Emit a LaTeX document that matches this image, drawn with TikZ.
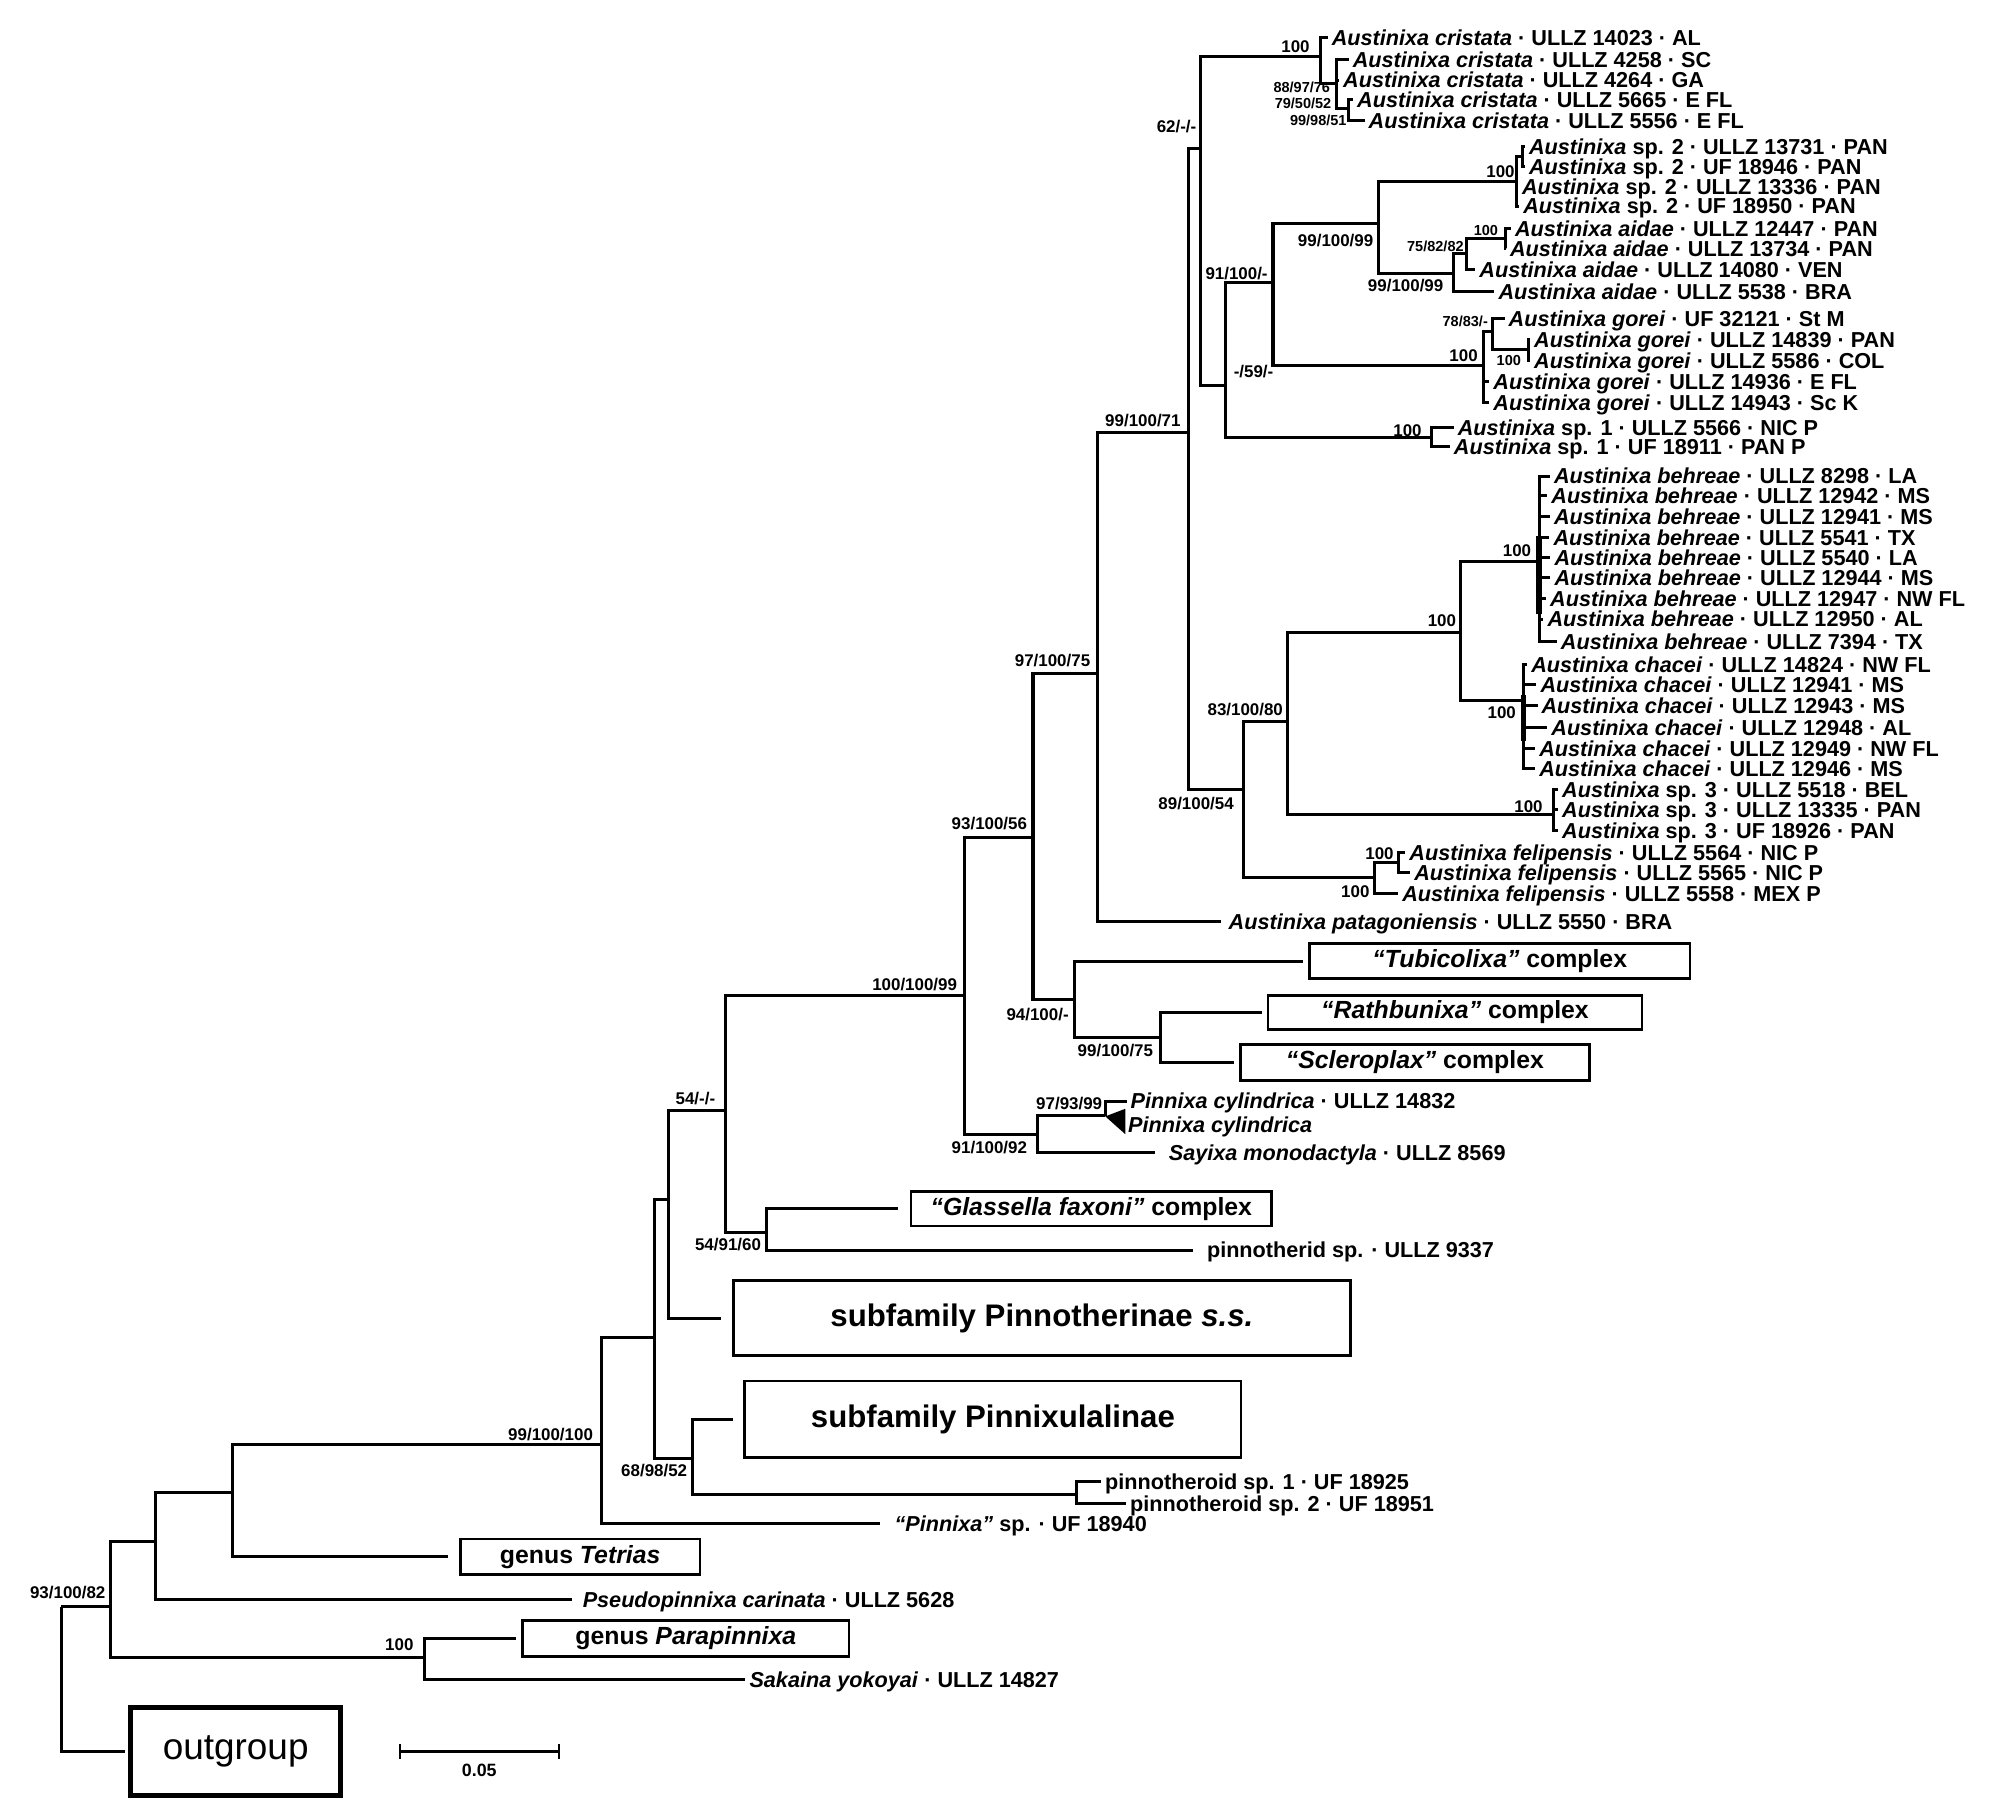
\documentclass[tikz,border=0pt]{standalone}
\usepackage{fontspec}
\setmainfont{Liberation Sans}
\newcommand{\aus}[1]{\textit{Austinixa #1}}
\newcommand{\sd}{ · }
\begin{document}
\begin{tikzpicture}[x=1pt, y=-1pt, line join=miter,
    br/.style={line width=2.4pt},
    tx/.style={anchor=west, inner xsep=3pt, inner ysep=0pt, text height=12.2pt, text depth=0pt, font=\bfseries\fontsize{17}{17}\selectfont},
    lb/.style={anchor=east, inner sep=0pt, text height=9.6pt, text depth=0pt, font=\bfseries\fontsize{13.3}{13.3}\selectfont},
    lbs/.style={lb, text height=8.2pt, font=\bfseries\fontsize{11.4}{11.4}\selectfont},
    bx/.style={draw, line width=2pt, anchor=west, inner sep=0pt, font=\bfseries\fontsize{19.5}{19.5}\selectfont},
    bxl/.style={bx, font=\bfseries\fontsize{24.5}{24.5}\selectfont}]
  \useasboundingbox (0,0) rectangle (1568,1428);
  % 系统发育树：内部节点
  \coordinate (root) at (48,1262);
  \coordinate (nR2) at (86.5,1262);
  \coordinate (nR3) at (122.5,1210.8);
  \coordinate (nR4) at (182.5,1172.6);
  \coordinate (nR5) at (472.5,1134.5);
  \coordinate (nR6) at (514.5,1051);
  \coordinate (nR7) at (525,942.6);
  \coordinate (nR8) at (570,872.5);
  \coordinate (nR9) at (602,968);
  \coordinate (nR10) at (544,1145.5);
  \coordinate (nPT) at (846,1173.9);
  \coordinate (nPP) at (333.5,1302);
  \coordinate (nP) at (757.9,782);
  \coordinate (nQ) at (811.5,658);
  \coordinate (nT) at (844.2,785.2);
  \coordinate (nU) at (911.9,815);
  \coordinate (nPS) at (814.7,891.4);
  \coordinate (nPC) at (868.3,876);
  \coordinate (tri) at (868.3,877);
  \coordinate (nX) at (862,529);
  \coordinate (nY) at (934,340);
  \coordinate (nZ) at (943,116.5);
  \coordinate (nC1) at (1037.5,44.5);
  \coordinate (nC2) at (1050,65.5);
  \coordinate (nC3) at (1059,85);
  \coordinate (nN1) at (963,302.5);
  \coordinate (nN2) at (1000,222);
  \coordinate (nN3) at (1083,175.5);
  \coordinate (nS2) at (1191.5,142.7);
  \coordinate (nS2a) at (1196,123);
  \coordinate (nA1) at (1141.7,214.8);
  \coordinate (nA2) at (1151.7,199);
  \coordinate (nA3) at (1182.3,187.3);
  \coordinate (nG1) at (1165.3,286.8);
  \coordinate (nG2) at (1172.6,260.6);
  \coordinate (nG3) at (1200.6,274.7);
  \coordinate (nS1) at (1124.7,343.5);
  \coordinate (nW) at (976.7,620);
  \coordinate (nV) at (1011.5,566.6);
  \coordinate (nBC) at (1147,496.5);
  \coordinate (nBE) at (1209,441);
  \coordinate (nCH) at (1196.5,550);
  \coordinate (nS3) at (1220.6,640);
  \coordinate (nF1) at (1080,689.6);
  \coordinate (nF2) at (1098.4,677.6);

  % 末端类群
  \node[tx] (cr1) at (1043,29.5) {\aus{cristata}\sd ULLZ 14023\sd AL};
  \node[tx] (cr2) at (1059.5,47) {\aus{cristata}\sd ULLZ 4258\sd SC};
  \node[tx] (cr3) at (1052,63) {\aus{cristata}\sd ULLZ 4264\sd GA};
  \node[tx] (cr4) at (1063,78.5) {\aus{cristata}\sd ULLZ 5665\sd E FL};
  \node[tx] (cr5) at (1072,94.5) {\aus{cristata}\sd ULLZ 5556\sd E FL};
  \node[tx] (sb1) at (1198,115) {\textit{Austinixa} sp. 2\sd ULLZ 13731\sd PAN};
  \node[tx] (sb2) at (1198,131) {\textit{Austinixa} sp. 2\sd UF 18946\sd PAN};
  \node[tx] (sb3) at (1192.5,146.5) {\textit{Austinixa} sp. 2\sd ULLZ 13336\sd PAN};
  \node[tx] (sb4) at (1193.5,162) {\textit{Austinixa} sp. 2\sd UF 18950\sd PAN};
  \node[tx] (ai1) at (1187,179.5) {\aus{aidae}\sd ULLZ 12447\sd PAN};
  \node[tx] (ai2) at (1183,195.5) {\aus{aidae}\sd ULLZ 13734\sd PAN};
  \node[tx] (ai3) at (1159,212) {\aus{aidae}\sd ULLZ 14080\sd VEN};
  \node[tx] (ai4) at (1174,229) {\aus{aidae}\sd ULLZ 5538\sd BRA};
  \node[tx] (go1) at (1182,250) {\aus{gorei}\sd UF 32121\sd St M};
  \node[tx] (go2) at (1202,266.5) {\aus{gorei}\sd ULLZ 14839\sd PAN};
  \node[tx] (go3) at (1202,283) {\aus{gorei}\sd ULLZ 5586\sd COL};
  \node[tx] (go4) at (1170,300) {\aus{gorei}\sd ULLZ 14936\sd E FL};
  \node[tx] (go5) at (1170,316.5) {\aus{gorei}\sd ULLZ 14943\sd Sc K};
  \node[tx] (sa1) at (1142,336) {\textit{Austinixa} sp. 1\sd ULLZ 5566\sd NIC P};
  \node[tx] (sa2) at (1139,351) {\textit{Austinixa} sp. 1\sd UF 18911\sd PAN P};
  \node[tx] (be1) at (1217.6,374) {\aus{behreae}\sd ULLZ 8298\sd LA};
  \node[tx] (be2) at (1215.5,389.3) {\aus{behreae}\sd ULLZ 12942\sd MS};
  \node[tx] (be3) at (1217.6,405.7) {\aus{behreae}\sd ULLZ 12941\sd MS};
  \node[tx] (be4) at (1217.2,422.4) {\aus{behreae}\sd ULLZ 5541\sd TX};
  \node[tx] (be5) at (1218,437.8) {\aus{behreae}\sd ULLZ 5540\sd LA};
  \node[tx] (be6) at (1218,453.9) {\aus{behreae}\sd ULLZ 12944\sd MS};
  \node[tx] (be7) at (1214.6,470) {\aus{behreae}\sd ULLZ 12947\sd NW FL};
  \node[tx] (be8) at (1212.5,486.4) {\aus{behreae}\sd ULLZ 12950\sd AL};
  \node[tx] (be9) at (1223,504) {\aus{behreae}\sd ULLZ 7394\sd TX};
  \node[tx] (ch1) at (1199.7,522) {\aus{chacei}\sd ULLZ 14824\sd NW FL};
  \node[tx] (ch2) at (1207,538) {\aus{chacei}\sd ULLZ 12941\sd MS};
  \node[tx] (ch3) at (1207.8,554) {\aus{chacei}\sd ULLZ 12943\sd MS};
  \node[tx] (ch4) at (1215.5,571.6) {\aus{chacei}\sd ULLZ 12948\sd AL};
  \node[tx] (ch5) at (1206,588) {\aus{chacei}\sd ULLZ 12949\sd NW FL};
  \node[tx] (ch6) at (1206,604) {\aus{chacei}\sd ULLZ 12946\sd MS};
  \node[tx] (sc1) at (1224,620.2) {\textit{Austinixa} sp. 3\sd ULLZ 5518\sd BEL};
  \node[tx] (sc2) at (1224,636.2) {\textit{Austinixa} sp. 3\sd ULLZ 13335\sd PAN};
  \node[tx] (sc3) at (1224,652.2) {\textit{Austinixa} sp. 3\sd UF 18926\sd PAN};
  \node[tx] (fe1) at (1104,669.6) {\aus{felipensis}\sd ULLZ 5564\sd NIC P};
  \node[tx] (fe2) at (1107.8,685.6) {\aus{felipensis}\sd ULLZ 5565\sd NIC P};
  \node[tx] (fe3) at (1098.4,701.7) {\aus{felipensis}\sd ULLZ 5558\sd MEX P};
  \node[tx] (pat) at (962,724) {\aus{patagoniensis}\sd ULLZ 5550\sd BRA};
  \node[bx, minimum width=299pt, minimum height=27.5pt] (tub) at (1027.6,755) {\textit{“Tubicolixa”} complex};
  \node[bx, minimum width=294pt, minimum height=27pt] (rat) at (995,795.4) {\textit{“Rathbunixa”} complex};
  \node[bx, minimum width=274pt, minimum height=28pt] (scl) at (973.5,834.6) {\textit{“Scleroplax”} complex};
  \node[tx] (pcy1) at (885,865) {\textit{Pinnixa cylindrica}\sd ULLZ 14832};
  \node[tx, inner xsep=2pt] (pcy2) at (884,883.4) {\textit{Pinnixa cylindrica}};
  \node[tx] (say) at (915,905.6) {\textit{Sayixa monodactyla}\sd ULLZ 8569};
  \node[bx, minimum width=283pt, minimum height=27pt] (gla) at (714.8,949.5) {\textit{“Glassella faxoni”} complex};
  \node[tx] (pns) at (945,982) {pinnotherid sp.\sd ULLZ 9337};
  \node[bxl, minimum width=485pt, minimum height=59pt] (pnd) at (575,1035.5) {subfamily Pinnotherinae \textit{s.s.}};
  \node[bxl, minimum width=390pt, minimum height=60pt] (pxl) at (584,1115) {subfamily Pinnixulalinae};
  \node[tx] (pd1) at (865,1164) {pinnotheroid sp. 1\sd UF 18925};
  \node[tx] (pd2) at (884.6,1181) {pinnotheroid sp. 2\sd UF 18951};
  \node[tx] (pxs) at (699.6,1196.7) {\textit{“Pinnixa”} sp.\sd UF 18940};
  \node[bx, minimum width=188.4pt, minimum height=28pt] (tet) at (360.6,1223) {genus \textit{Tetrias}};
  \node[tx] (pse) at (454.6,1256.3) {\textit{Pseudopinnixa carinata}\sd ULLZ 5628};
  \node[bx, minimum width=256.5pt, minimum height=28.4pt] (par) at (409.5,1287) {genus \textit{Parapinnixa}};
  \node[tx] (sak) at (585.6,1319.5) {\textit{Sakaina yokoyai}\sd ULLZ 14827};
  \node[draw, line width=3.5pt, anchor=west, inner sep=0pt, minimum width=165pt, minimum height=69pt, font=\fontsize{29}{29}\selectfont] (out) at (100.9,1376) {outgroup};

  % 分支
  \draw[br] (root) |- (nR2);
  \draw[br, shorten >=3pt] (root) |- (out.west);
  \draw[br] (nR2) |- (nR3) (nR2) |- (nPP);
  \draw[br, shorten >=4.5pt] (nPP) |- (par.west);
  \draw[br] (nPP) |- (sak.west);
  \draw[br] (nR3) |- (nR4);
  \draw[br, shorten >=5.6pt] (nR3) |- (pse.west);
  \draw[br] (nR4) |- (nR5);
  \draw[br, shorten >=8.6pt] (nR4) |- (tet.west);
  \draw[br] (nR5) |- (nR6);
  \draw[br, shorten >=8pt] (nR5) |- (pxs.west);
  \draw[br] (nR6) |- (nR7) (nR6) |- (nR10);
  \draw[br, shorten >=8pt] (nR10) |- (pxl.west);
  \draw[br] (nR10) |- (nPT);
  \draw[br] (nPT) |- (pd1.west) (nPT) |- (pd2.west);
  \draw[br] (nR7) |- (nR8);
  \draw[br, shorten >=9pt] (nR7) |- (pnd.west);
  \draw[br] (nR8) |- (nP) (nR8) |- (nR9);
  \draw[br, shorten >=9pt] (nR9) |- (gla.west);
  \draw[br, shorten >=8pt] (nR9) |- (pns.west);
  \draw[br] (nP) |- (nQ) (nP) |- (nPS);
  \draw[br] (nPS) |- (nPC);
  \draw[br, shorten >=8pt] (nPS) |- (say.west);
  \draw[br] (nPC) |- (pcy1.west) (nPC) |- (tri);
  \fill (tri) -- (884,871) -- (884,891) -- cycle;
  \draw[br] (nQ) |- (nX) (nQ) |- (nT);
  \draw[br, shorten >=4pt] (nT) |- (tub.west);
  \draw[br] (nT) |- (nU);
  \draw[br, shorten >=4pt] (nU) |- (rat.west);
  \draw[br, shorten >=4pt] (nU) |- (scl.west);
  \draw[br] (nX) |- (nY);
  \draw[br, shorten >=3pt] (nX) |- (pat.west);
  \draw[br] (nY) |- (nZ) (nY) |- (nW);
  \draw[br] (nZ) |- (nC1) (nZ) |- (nN1);
  \draw[br] (nC1) |- (cr1.west) (nC1) |- (nC2);
  \draw[br] (nC2) |- (cr2.west) (nC2) |- (cr3.west) (nC2) |- (nC3);
  \draw[br] (nC3) |- (cr4.west) (nC3) |- (cr5.west);
  \draw[br] (nN1) |- (nN2) (nN1) |- (nS1);
  \draw[br] (nS1) |- (sa1.west) (nS1) |- (sa2.west);
  \draw[br] (nN2) |- (nN3) (nN2) |- (nG1);
  \draw[br] (nN3) |- (nS2) (nN3) |- (nA1);
  \draw[br] (nS2) |- (nS2a) (nS2) |- (sb3.west) (nS2) |- (sb4.west);
  \draw[br] (nS2a) |- (sb1.west) (nS2a) |- (sb2.west);
  \draw[br] (nA1) |- (nA2) (nA1) |- (ai4.west);
  \draw[br] (nA2) |- (nA3) (nA2) |- (ai3.west);
  \draw[br] (nA3) |- (ai1.west) (nA3) |- (ai2.west);
  \draw[br] (nG1) |- (nG2) (nG1) |- (go4.west) (nG1) |- (go5.west);
  \draw[br] (nG2) |- (go1.west) (nG2) |- (nG3);
  \draw[br] (nG3) |- (go2.west) (nG3) |- (go3.west);
  \draw[br] (nW) |- (nV) (nW) |- (nF1);
  \draw[br] (nF1) |- (nF2) (nF1) |- (fe3.west);
  \draw[br] (nF2) |- (fe1.west) (nF2) |- (fe2.west);
  \draw[br] (nV) |- (nBC) (nV) |- (nS3);
  \draw[br] (nS3) |- (sc1.west) (nS3) |- (sc2.west) (nS3) |- (sc3.west);
  \draw[br] (nBC) |- (nBE) (nBC) |- (nCH);
  \draw[br] (nBE) |- (be1.west) (nBE) |- (be2.west) (nBE) |- (be3.west)
            (nBE) |- (be4.west) (nBE) |- (be5.west) (nBE) |- (be6.west)
            (nBE) |- (be7.west) (nBE) |- (be8.west) (nBE) |- (be9.west);
  \draw[line width=4.5pt] ([yshift=20pt]nBE) -- ([yshift=-41pt]nBE);
  \draw[br] (nCH) |- (ch1.west) (nCH) |- (ch2.west) (nCH) |- (ch3.west)
            (nCH) |- (ch4.west) (nCH) |- (ch5.west) (nCH) |- (ch6.west);
  \draw[line width=4pt] ([yshift=4pt]nCH) -- ([yshift=-32pt]nCH);

  % 支持率
  \node[lb] (b01) at (83,1251) {93/100/82};
  \node[lb] (b02) at (325,1292) {100};
  \node[lb] (b03) at (466,1126.6) {99/100/100};
  \node[lb] (b04) at (540,1155) {68/98/52};
  \node[lb] (b05) at (562,862.8) {54/-/-};
  \node[lb] (b06) at (598,977.8) {54/91/60};
  \node[lb] (b07) at (752,773) {100/100/99};
  \node[lb] (b08) at (807,901.7) {91/100/92};
  \node[lb] (b09) at (866,867) {97/93/99};
  \node[lb] (b10) at (839.7,797) {94/100/-};
  \node[lb] (b11) at (906,825) {99/100/75};
  \node[lb] (b12) at (807,647) {93/100/56};
  \node[lb] (b13) at (856.6,519) {97/100/75};
  \node[lb] (b14) at (927.6,330.6) {99/100/71};
  \node[lb] (b15) at (969.4,631) {89/100/54};
  \node[lb] (b16) at (1008,557) {83/100/80};
  \node[lb] (b17) at (1144,487) {100};
  \node[lb] (b18) at (1203,432) {100};
  \node[lb] (b19) at (1191,560) {100};
  \node[lb] (b20) at (1212,633.6) {100};
  \node[lb] (b21) at (1095,670) {100};
  \node[lb] (b22) at (1076,700) {100};
  \node[lb] (b23) at (940,99.5) {62/-/-};
  \node[lb] (b24) at (1029,36.7) {100};
  \node[lbs] (b25) at (1045,68.6) {88/97/76};
  \node[lbs] (b26) at (1046,81.2) {79/50/52};
  \node[lbs] (b27) at (1058,94.3) {99/98/51};
  \node[lb] (b28) at (996,214.8) {91/100/-};
  \node[lb, anchor=west] (b29) at (969,292) {-/59/-};
  \node[lb] (b30) at (1079,188.6) {99/100/99};
  \node[lb] (b31) at (1190,135) {100};
  \node[lb] (b32) at (1134,224) {99/100/99};
  \node[lbs] (b33) at (1150,193.3) {75/82/82};
  \node[lbs] (b34) at (1177,180.7) {100};
  \node[lbs] (b35) at (1169,252.7) {78/83/-};
  \node[lb] (b36) at (1161,279) {100};
  \node[lbs] (b37) at (1195,283) {100};
  \node[lb] (b38) at (1117,338) {100};

  % 标尺
  \coordinate (sbL) at (314,1376);
  \coordinate (sbR) at (439,1376);
  \draw[line width=1.8pt] (sbL) -- (sbR);
  \draw[line width=1.8pt] ([yshift=6pt]sbL) -- ([yshift=-6pt]sbL);
  \draw[line width=1.8pt] ([yshift=6pt]sbR) -- ([yshift=-6pt]sbR);
  \node[lb, anchor=center, font=\bfseries\fontsize{14}{14}\selectfont] (sbl) at (376.5,1391) {0.05};
\end{tikzpicture}
\end{document}
